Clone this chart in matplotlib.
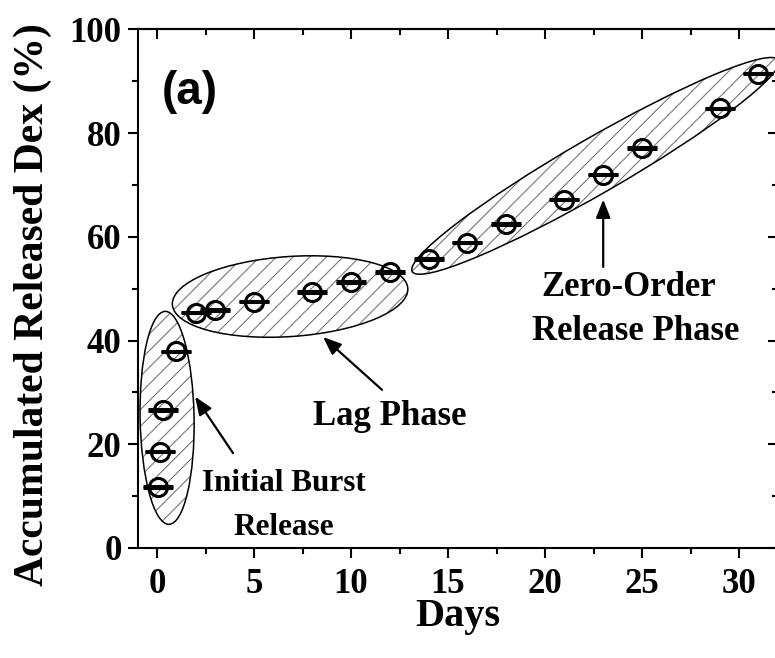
import matplotlib
matplotlib.use("Agg")
import matplotlib.pyplot as plt
import matplotlib.transforms as mtransforms
from matplotlib.patches import Ellipse
from matplotlib.ticker import MultipleLocator

# release data (days, % released)
days = [0.04, 0.17, 0.33, 1, 2, 3, 5, 8, 10, 12, 14, 16, 18, 21, 23, 25, 29, 31]
released = [11.8, 18.6, 26.6, 37.9, 45.4, 45.9, 47.5, 49.4, 51.3, 53.2,
            55.7, 58.9, 62.5, 67.2, 72.0, 77.1, 84.8, 91.5]
released_err = [0.15] * len(days)

x_ticks = [0, 5, 10, 15, 20, 25, 30]
y_ticks = [0, 20, 40, 60, 80, 100]

# phase highlight ellipses: centre (data), size in pixels, angle
phase_centres = [(0.52, 25.1), (6.86, 48.5), (22.6, 73.7)]
phase_sizes = [(213, 54, 91), (236, 80, 4), (423, 55, 30)]

plt.rcParams['font.family'] = ['Liberation Serif', 'DejaVu Serif']
plt.rcParams['font.weight'] = 'bold'
plt.rcParams['axes.labelweight'] = 'bold'
plt.rcParams['hatch.linewidth'] = 0.8

fig = plt.figure(figsize=(7.75, 6.58), dpi=100)
ax = fig.add_axes([137.6 / 775, 110 / 658, 640.2 / 775, 518.5 / 658])
ax.set_xlim(-1, 32)
ax.set_ylim(0, 100)

for (cx, cy), (w, h, ang) in zip(phase_centres, phase_sizes):
    tr = mtransforms.Affine2D().scale(fig.dpi / 100) + \
        mtransforms.ScaledTranslation(cx, cy, ax.transData)
    ax.add_patch(Ellipse((0, 0), w, h, angle=ang, transform=tr,
                         facecolor='none', edgecolor='#777777', lw=0,
                         hatch='//', zorder=1))
    ax.add_patch(Ellipse((0, 0), w, h, angle=ang, transform=tr,
                         facecolor='none', edgecolor='black', lw=1.1,
                         zorder=2))

ax.errorbar(days, released, yerr=released_err, fmt='o', ms=13,
            mfc='none', mec='black', mew=2.2, ecolor='black',
            elinewidth=1.8, capsize=11, capthick=2, zorder=3)

ax.text(0.26, 88, '(a)', ha='left', va='center', fontsize=33,
        family=['Liberation Sans', 'DejaVu Sans'], weight='bold')

arrow = dict(arrowstyle='-|>,head_length=0.55,head_width=0.22',
             color='black', lw=1.6, shrinkA=0, shrinkB=0,
             mutation_scale=20)
ax.annotate('', xy=(1.96, 29.2), xytext=(3.92, 18.3), arrowprops=arrow)
ax.annotate('', xy=(8.56, 40.7), xytext=(11.6, 30.5), arrowprops=arrow)
ax.annotate('', xy=(23.0, 67.2), xytext=(23.0, 54.2), arrowprops=arrow)

ax.text(6.55, 12.5, 'Initial Burst', ha='center', va='center', fontsize=22.5)
ax.text(6.55, 3.9, 'Release', ha='center', va='center', fontsize=22.5)
ax.text(12.0, 25.3, 'Lag Phase', ha='center', va='center', fontsize=25)
ax.text(24.3, 50.2, 'Zero-Order', ha='center', va='center', fontsize=25)
ax.text(24.7, 41.7, 'Release Phase', ha='center', va='center', fontsize=25)

for s in ax.spines.values():
    s.set_linewidth(1.5)

ax.set_xticks(x_ticks)
ax.set_yticks(y_ticks)
ax.xaxis.set_minor_locator(MultipleLocator(2.5))
ax.yaxis.set_minor_locator(MultipleLocator(10))
ax.tick_params(which='major', direction='out', length=7.5, width=1.5,
               labelsize=25)
ax.tick_params(axis='x', which='major', pad=7)
ax.tick_params(axis='y', which='major', pad=4)
ax.tick_params(which='minor', direction='out', length=4, width=1.5)

# inward ticks on top and right
top = ax.secondary_xaxis('top')
right = ax.secondary_yaxis('right')
top.set_xticks(x_ticks)
right.set_yticks(y_ticks)
top.xaxis.set_minor_locator(MultipleLocator(2.5))
right.yaxis.set_minor_locator(MultipleLocator(10))
for sec in (top, right):
    sec.tick_params(which='major', direction='in', length=7.5, width=1.5,
                    labelleft=False, labelright=False, labeltop=False,
                    labelbottom=False)
    sec.tick_params(which='minor', direction='in', length=4, width=1.5)
    for s in sec.spines.values():
        s.set_linewidth(1.5)

ax.set_xlabel('Days', fontsize=29, fontweight='bold')
ax.set_ylabel('Accumulated Released Dex (%)', fontsize=30, fontweight='bold')
ax.xaxis.set_label_coords(0.5, -0.097)
ax.yaxis.set_label_coords(-0.134, 0.47)

fig.savefig('out.png', dpi=100)
